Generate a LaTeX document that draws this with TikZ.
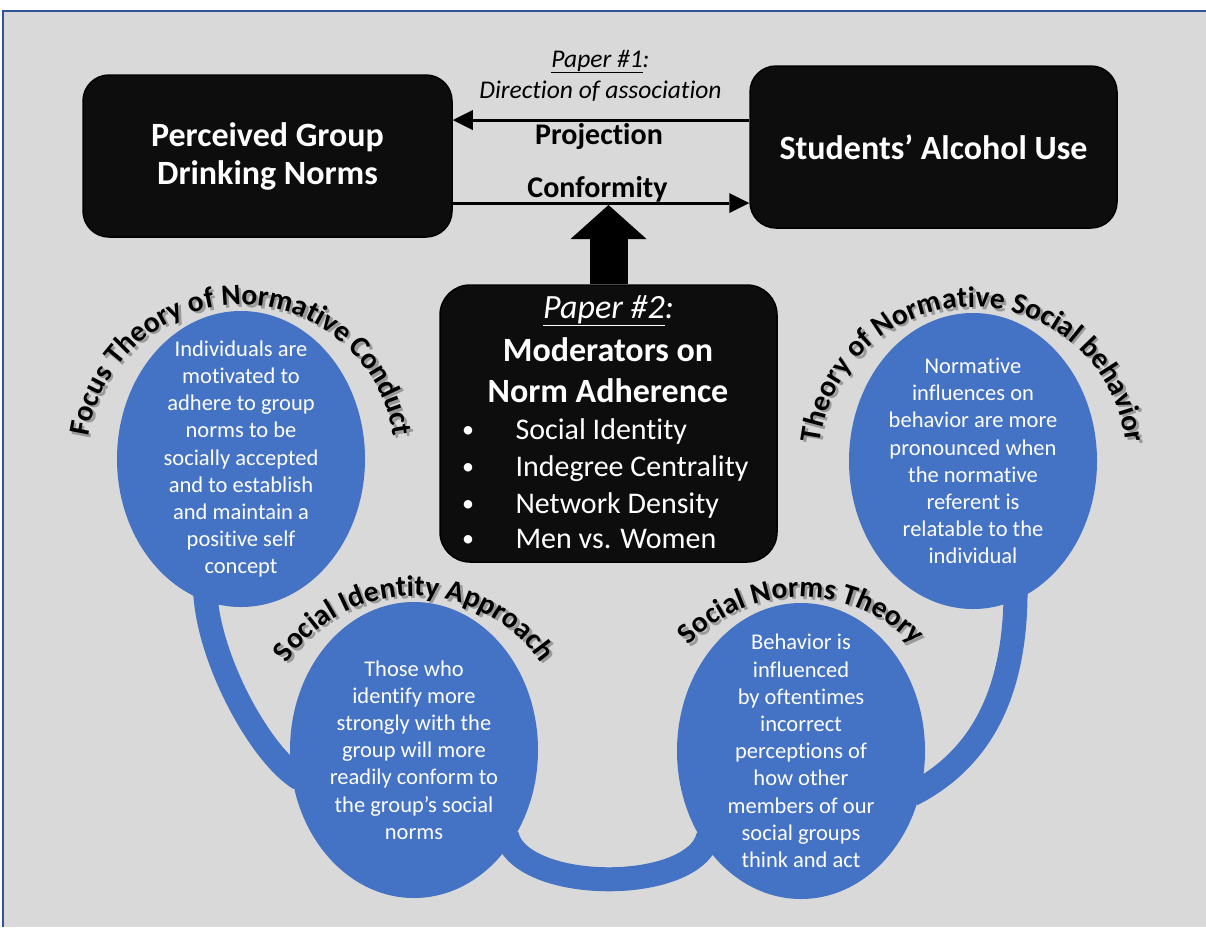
\documentclass[tikz,border=0pt]{standalone}
\usepackage{fontspec}
\setmainfont{Carlito}[Ligatures=NoCommon]
\usetikzlibrary{arrows.meta,decorations.text,calc,shapes.geometric}
\definecolor{bgray}{HTML}{D9D9D9}
\definecolor{oblue}{HTML}{4472C4}
\definecolor{frameblue}{HTML}{2F5597}
\definecolor{boxblack}{HTML}{0D0D0D}
\definecolor{shadowgray}{HTML}{9A9A9A}
\newcommand\myarcfont{\fontsize{29.5}{34}\selectfont\bfseries}
\newcommand\myarclabel[2]{%
  \path[decorate, decoration={text along path, text align=center, text color=shadowgray,
    text={|\myarcfont|#2}}] ($(#1)+(2.5,2.5)$) ++(180:154) arc[start angle=180,end angle=360,radius=154];
  \path[decorate, decoration={text along path, text align=center, text color=black,
    text={|\myarcfont|#2}}] (#1) ++(180:154) arc[start angle=180,end angle=360,radius=154];
}
\tikzset{
  blackbox/.style={draw=black, line width=1.5pt, fill=boxblack, rounded corners=26pt,
    inner sep=0pt, text=white, align=center, font=\fontsize{34}{38}\selectfont\bfseries},
  linkarrow/.style={draw=black, line width=3pt, -{Triangle[length=20pt,width=20pt,line width=0pt]}},
  blob/.style={ellipse, fill=oblue, minimum width=248pt, minimum height=296pt, inner sep=0pt},
  band/.style={draw=oblue, line width=24pt, shorten <=-10pt, shorten >=-10pt},
  blobtext/.style={text=white, align=center, font=\fontsize{22.5}{27.2}\selectfont},
  midlabel/.style={anchor=base, font=\fontsize{30}{36}\selectfont\bfseries},
  notelabel/.style={anchor=base, font=\fontsize{25.5}{30}\selectfont\itshape},
  modtitle/.style={anchor=base, text=white, font=\fontsize{34}{40}\selectfont\bfseries},
  moditem/.style={anchor=base west, text=white, font=\fontsize{30}{36}\selectfont},
  modbullet/.style={anchor=base, text=white, font=\fontsize{24}{30}\selectfont},
}
\begin{document}
\begin{tikzpicture}[x=1pt,y=-1pt]
\useasboundingbox (0,0) rectangle (1206,927);
\fill[white] (0,0) rectangle (1206,927);
\fill[bgray] (3,11) rectangle (1206,927);
\draw[frameblue, line width=2pt] (3,927) -- (3,11) -- (1206,11);

% top boxes
\node[blackbox, minimum width=369pt, minimum height=162pt] (lbox) at (267.5,156) {Perceived Group\\Drinking Norms};
\node[blackbox, minimum width=367pt, minimum height=162pt] (rbox) at (933.5,147) {Students’ Alcohol Use};

% paper 1 arrows
\coordinate (projy) at (600,120);
\coordinate (confy) at (600,203);
\draw[linkarrow] (rbox.west |- projy) -- (lbox.east |- projy);
\draw[linkarrow] (lbox.east |- confy) -- (rbox.west |- confy);
\node[notelabel] (p1) at (600.5,67) {\underline{Paper \#1}:};
\node[notelabel] (p1b) at (600.5,98) {Direction of association};
\node[midlabel] (projlbl) at (599,144) {Projection};
\node[midlabel] (conflbl) at (597.5,197) {Conformity};

% moderators box
\node[blackbox, minimum width=337pt, minimum height=277pt, rounded corners=30pt] (mod) at (608.5,423.5) {};
\coordinate (conftip) at (608.5,205);
\draw[line width=38pt, -{Triangle[length=34pt,width=76pt,line width=0pt]}] (mod.north) -- (conftip);
\node[modtitle, font=\fontsize{34}{40}\selectfont\itshape] (m0) at (608.5,318) {\underline{Paper \#2}:};
\node[modtitle] (m1) at (608,361) {Moderators on};
\node[modtitle] (m2) at (608,402) {Norm Adherence};
\node[modbullet] (b1) at (468,437) {•};
\node[modbullet] (b2) at (468,474) {•};
\node[modbullet] (b3) at (468,511) {•};
\node[modbullet] (b4) at (468,546) {•};
\node[moditem] (i1) at (512,439) {Social Identity};
\node[moditem] (i2) at (512,476) {Indegree Centrality};
\node[moditem] (i3) at (512,513) {Network Density};
\node[moditem] (i4) at (512,548) {Men vs. Women};

% blue ellipses
\node[blob] (e1) at (241,459) {};
\node[blob] (e2) at (414,750) {};
\node[blob] (e3) at (801,751) {};
\node[blob] (e4) at (973,461) {};

% connecting bands
\draw[band] (e1.256) .. controls +(3,60) and +(-30,-18) .. (e2.191);
\draw[band] (e2.315) .. controls +(12,48) and +(-12,48) .. (e3.225);
\draw[band] (e4.287) .. controls +(0,100) and +(55,-28) .. (e3.342);

% ellipse texts
\node[blobtext] (t1) at (e1) {Individuals are\\motivated to\\adhere to group\\norms to be\\socially accepted\\and to establish\\and maintain a\\positive self\\concept};
\node[blobtext] (t2) at (e2) {Those who\\identify more\\strongly with the\\group will more\\readily conform to\\the group’s social\\norms};
\node[blobtext] (t3) at (e3) {Behavior is\\influenced\\by oftentimes\\incorrect\\perceptions of\\how other\\members of our\\social groups\\think and act};
\node[blobtext] (t4) at (e4) {Normative\\influences on\\behavior are more\\pronounced when\\the normative\\referent is\\relatable to the\\individual};

% arc labels
\myarclabel{e1}{Focus Theory of Normative Conduct}
\myarclabel{e2}{Social Identity Approach}
\myarclabel{e3}{Social Norms Theory}
\myarclabel{e4}{Theory of Normative Social behavior}
\end{tikzpicture}
\end{document}
